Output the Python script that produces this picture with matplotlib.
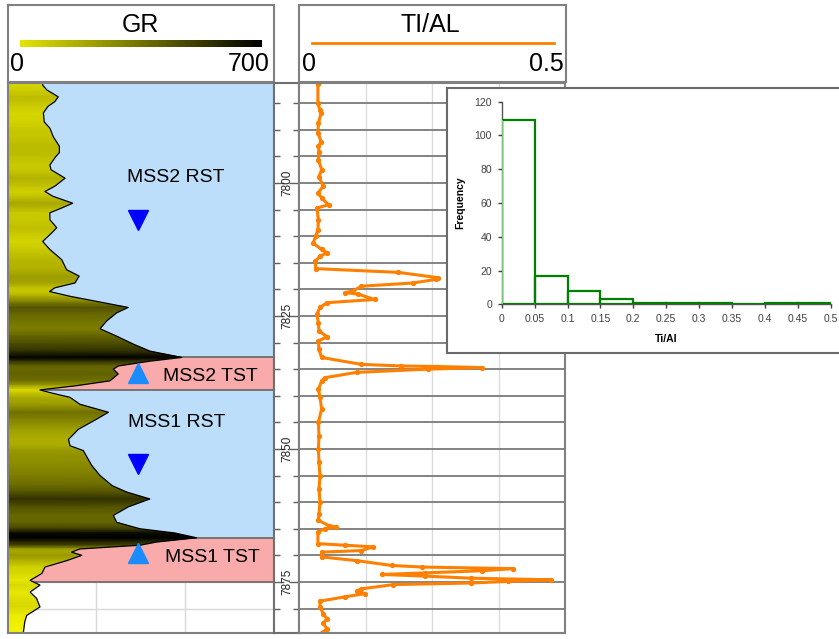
import numpy as np
import matplotlib
matplotlib.use('Agg')
import matplotlib.pyplot as plt
from matplotlib.colors import LinearSegmentedColormap, Normalize
from matplotlib.patches import PathPatch
from matplotlib.path import Path

plt.rcParams['font.family'] = ['Liberation Sans', 'DejaVu Sans']

W, H = 839, 639

# --- GR log (depth ft, API) ---
gr_depth = [7781.2, 7781.6, 7782.5, 7783.8, 7784.7, 7785.6, 7786.8, 7788.5, 7789.7, 7791.3,
            7793.1, 7794.3, 7795.0, 7796.6, 7797.5, 7799.1, 7800.6, 7801.6, 7802.5, 7803.8,
            7804.7, 7805.6, 7806.9, 7808.4, 7809.3, 7811.0, 7812.5, 7814.4, 7816.3, 7817.5,
            7818.8, 7819.7, 7820.4, 7821.3, 7822.5, 7823.4, 7824.4, 7825.9, 7827.4, 7828.8,
            7830.3, 7831.6, 7832.8, 7833.5, 7834.4, 7835.0, 7835.9, 7837.2, 7838.1, 7838.9,
            7839.4, 7840.3, 7841.6, 7843.1, 7844.4, 7846.3, 7848.2, 7849.4, 7850.3, 7853.1,
            7855.0, 7856.9, 7858.1, 7859.4, 7860.9, 7862.5, 7863.8, 7865.0, 7865.8, 7866.7,
            7867.5, 7868.1, 7868.8, 7869.4, 7870.0, 7871.0, 7872.2, 7873.4, 7874.7, 7875.6,
            7876.9, 7878.1, 7879.7, 7881.3, 7882.5, 7884.6]
gr_value = [92, 92, 103, 133, 124, 106, 94, 96, 111, 120,
            136, 136, 127, 111, 114, 151, 124, 98, 119, 171,
            142, 111, 111, 129, 117, 92, 111, 142, 155, 188,
            177, 124, 110, 164, 252, 317, 287, 261, 243, 287,
            331, 374, 458, 374, 291, 278, 291, 269, 181, 85,
            111, 164, 190, 265, 234, 186, 160, 164, 199, 221,
            243, 275, 313, 374, 317, 278, 287, 348, 440, 497,
            392, 348, 190, 168, 195, 155, 98, 90, 59, 85,
            59, 76, 85, 50, 45, 41]

# --- Ti/Al log ---
tial_depth = [7781.4, 7785.0, 7786.3, 7786.8, 7788.8, 7790.6, 7792.2, 7793.1, 7794.1, 7795.6,
              7797.5, 7798.8, 7800.6, 7801.9, 7802.8, 7804.1, 7804.7, 7806.9, 7808.8, 7810.0,
              7811.3, 7812.5, 7813.1, 7813.8, 7814.7, 7816.1, 7816.8, 7817.8, 7818.1, 7818.8,
              7819.4, 7820.3, 7820.6, 7820.9, 7821.9, 7822.5, 7823.4, 7824.7, 7826.3, 7827.8,
              7828.9, 7829.7, 7831.3, 7832.8, 7834.1, 7834.4, 7834.5, 7834.7, 7835.0, 7835.6,
              7836.6, 7837.2, 7838.8, 7840.3, 7842.5, 7845.0, 7847.5, 7850.0, 7852.5, 7855.1,
              7857.5, 7860.0, 7862.2, 7863.4, 7864.4, 7864.7, 7865.0, 7865.6, 7867.8, 7868.1,
              7868.4, 7869.1, 7869.4, 7870.3, 7871.0, 7871.9, 7872.2, 7872.5, 7872.9, 7873.3,
              7873.6, 7873.9, 7874.3, 7874.6, 7874.9, 7875.2, 7875.5, 7876.3, 7876.7, 7877.2,
              7877.8, 7878.6, 7879.7, 7881.0, 7881.9, 7882.8, 7883.8, 7884.6]
tial_value = [0.035, 0.035, 0.039, 0.041, 0.036, 0.035, 0.041, 0.036, 0.037, 0.036,
              0.042, 0.037, 0.045, 0.035, 0.042, 0.055, 0.033, 0.036, 0.035, 0.031,
              0.026, 0.042, 0.052, 0.039, 0.030, 0.031, 0.186, 0.261, 0.258, 0.214,
              0.117, 0.101, 0.086, 0.111, 0.142, 0.052, 0.039, 0.033, 0.036, 0.037,
              0.052, 0.036, 0.037, 0.042, 0.117, 0.192, 0.261, 0.343, 0.242, 0.108,
              0.048, 0.042, 0.036, 0.039, 0.042, 0.036, 0.037, 0.036, 0.037, 0.039,
              0.037, 0.039, 0.037, 0.036, 0.055, 0.070, 0.048, 0.035, 0.035, 0.086,
              0.139, 0.117, 0.042, 0.042, 0.108, 0.174, 0.230, 0.402, 0.343, 0.236,
              0.155, 0.236, 0.324, 0.474, 0.393, 0.324, 0.177, 0.117, 0.108, 0.123,
              0.086, 0.039, 0.039, 0.045, 0.052, 0.045, 0.052, 0.042]

# --- Systems tracts ---
zone_names = ['MSS2 RST', 'MSS2 TST', 'MSS1 RST', 'MSS1 TST']
zone_top = [7781.2, 7832.8, 7838.9, 7866.7]
zone_base = [7832.8, 7838.9, 7866.7, 7875.0]
zone_kind = ['RST', 'TST', 'RST', 'TST']

# --- Ti/Al histogram ---
hist_edges = [0, 0.05, 0.1, 0.15, 0.2, 0.25, 0.3, 0.35, 0.4, 0.45, 0.5]
hist_counts = [109, 17, 8, 3, 1, 1, 1, 0, 1, 1]
hist_xlabels = ['0', '0.05', '0.1', '0.15', '0.2', '0.25', '0.3', '0.35', '0.4', '0.45', '0.5']

depth_labels = [7800, 7825, 7850, 7875]

DEPTH_TOP, DEPTH_BOT = 7781.2, 7884.6
zone_colors = {'RST': '#BCDEFB', 'TST': '#F9AAAA'}
frame_col = '#808080'


def px_axes(fig, x0, y0, x1, y1, **kw):
    return fig.add_axes([x0 / W, 1 - y1 / H, (x1 - x0) / W, (y1 - y0) / H], **kw)


def style_box(ax, lw=1.5, col=frame_col):
    ax.set_xticks([])
    ax.set_yticks([])
    for s in ax.spines.values():
        s.set_color(col)
        s.set_linewidth(lw)
        s.set_zorder(10)


fig = plt.figure(figsize=(W / 100, H / 100), dpi=100)

gr_cmap = LinearSegmentedColormap.from_list('gr', ['#F2F200', '#000000'])
gr_norm = Normalize(vmin=40, vmax=460)

# --- GR header ---
axh = px_axes(fig, 7.7, 5, 273.7, 82)
axh.set_xlim(0, 1)
axh.set_ylim(0, 1)
style_box(axh)
axh.text(0.5, 0.74, 'GR', ha='center', va='center', fontsize=18)
axh.imshow(np.linspace(0, 1, 256)[None, :], cmap=LinearSegmentedColormap.from_list('h', ['#E4E400', '#000000']),
           extent=[0.046, 0.955, 0.458, 0.536], aspect='auto')
axh.text(0.008, 0.24, '0', ha='left', va='center', fontsize=18)
axh.text(0.985, 0.24, '700', ha='right', va='center', fontsize=18)

# --- GR track ---
ax_gr = px_axes(fig, 7.7, 83, 273.7, 633)
ax_gr.set_xlim(0, 700)
ax_gr.set_ylim(DEPTH_BOT, DEPTH_TOP)
style_box(ax_gr)
for d in range(7785, 7885, 5):
    ax_gr.axhline(d, color='#D8D8D8', lw=1, zorder=0.5)
for x in [700 / 3, 1400 / 3]:
    ax_gr.axvline(x, color='#D8D8D8', lw=1, zorder=0.5)
for top, base, kind in zip(zone_top, zone_base, zone_kind):
    ax_gr.axhspan(top, base, color=zone_colors[kind], lw=0, zorder=1)
for d in sorted(set(zone_top[1:] + zone_base)):
    ax_gr.axhline(d, color='#6E6E6E', lw=1.3, zorder=1.5)

d = np.array(gr_depth)
g = np.array(gr_value, dtype=float)
X = np.column_stack([np.zeros_like(g), np.full_like(g, 700)])
Y = np.column_stack([d, d])
C = np.column_stack([g, g])
mesh = ax_gr.pcolormesh(X, Y, C, cmap=gr_cmap, norm=gr_norm, shading='gouraud', zorder=2)
verts = [(0, d[0])] + list(zip(g, d)) + [(0, d[-1]), (0, d[0])]
clip = PathPatch(Path(verts), transform=ax_gr.transData, facecolor='none', edgecolor='none')
ax_gr.add_patch(clip)
mesh.set_clip_path(clip)
ax_gr.plot(g, d, color='black', lw=0.9, zorder=3)

# tract labels and trend arrows
ax_gr.text(443, 7798.9, zone_names[0], ha='center', va='center', fontsize=14, zorder=5)
ax_gr.plot(344, 7806.9, marker='v', color='#0000FF', ms=14, zorder=5)
ax_gr.text(409, 7836.4, zone_names[1], ha='left', va='center', fontsize=14, zorder=5)
ax_gr.plot(344, 7835.8, marker='^', color='#1A8CFF', ms=14, zorder=5)
ax_gr.text(445, 7845.1, zone_names[2], ha='center', va='center', fontsize=14, zorder=5)
ax_gr.plot(344, 7852.8, marker='v', color='#0000FF', ms=14, zorder=5)
ax_gr.text(414, 7870.4, zone_names[3], ha='left', va='center', fontsize=14, zorder=5)
ax_gr.plot(344, 7869.5, marker='^', color='#1A8CFF', ms=14, zorder=5)

# --- Depth track ---
ax_d = px_axes(fig, 273.7, 83, 299.3, 633)
ax_d.set_xlim(0, 1)
ax_d.set_ylim(DEPTH_BOT, DEPTH_TOP)
ax_d.set_xticks([])
ax_d.set_yticks(depth_labels)
ax_d.set_yticks(range(7785, 7885, 5), minor=True)
ax_d.tick_params(axis='y', which='both', left=True, right=True, direction='in',
                 labelleft=False, color='#606060', width=1)
ax_d.tick_params(axis='y', which='major', length=7)
ax_d.tick_params(axis='y', which='minor', length=4)
for s in ax_d.spines.values():
    s.set_color('#707070')
    s.set_linewidth(1.5)
for t in depth_labels:
    ax_d.text(0.52, t, str(t), rotation=90, ha='center', va='center', fontsize=8.5, color='#222222')

# --- Ti/Al header ---
axh2 = px_axes(fig, 299.3, 5, 566, 82)
axh2.set_xlim(0, 1)
axh2.set_ylim(0, 1)
style_box(axh2)
axh2.text(0.49, 0.74, 'TI/AL', ha='center', va='center', fontsize=18)
axh2.plot([0.0465, 0.955], [0.503, 0.503], color='#FF8000', lw=2)
axh2.text(0.01, 0.24, '0', ha='left', va='center', fontsize=18)
axh2.text(0.99, 0.24, '0.5', ha='right', va='center', fontsize=18)

# --- Ti/Al track ---
ax_ti = px_axes(fig, 299.3, 83, 565, 633)
ax_ti.set_xlim(0, 0.5)
ax_ti.set_ylim(DEPTH_BOT, DEPTH_TOP)
style_box(ax_ti)
for x in [0.125, 0.25, 0.375]:
    ax_ti.axvline(x, color='#DCDCDC', lw=1, zorder=0.5)
for dd in range(7785, 7885, 5):
    ax_ti.axhline(dd, color='#7A7A7A', lw=1.3, zorder=0.6)
ax_ti.plot(tial_value, tial_depth, color='#FF8000', lw=2.2, marker='o', ms=2.8, zorder=3)

# --- Histogram inset ---
axf = px_axes(fig, 447, 88, 845, 353)
axf.set_facecolor('white')
style_box(axf, lw=1.5, col='#6A6A6A')

axi = px_axes(fig, 501.7, 101.7, 830.7, 304.3)
axi.bar(hist_edges[:-1], hist_counts, width=0.05, align='edge', fill=False,
        edgecolor='#008000', lw=1.6, zorder=3)
axi.vlines(hist_edges[0], 0, hist_counts[0], color='#7CC47C', lw=1.6, zorder=4)
axi.set_xlim(0, 0.5)
axi.set_ylim(0, 120)
axi.set_xticks(hist_edges)
axi.set_xticklabels(hist_xlabels)
axi.set_yticks(range(0, 121, 20))
axi.tick_params(labelsize=7.5, colors='#404040', length=3, width=1, pad=4)
for s in ['top', 'right']:
    axi.spines[s].set_visible(False)
for s in ['left', 'bottom']:
    axi.spines[s].set_color('#555555')
    axi.spines[s].set_linewidth(1)
axi.set_ylabel('Frequency', fontsize=7.5, fontweight='bold', labelpad=7)
axi.set_xlabel('Ti/Al', fontsize=7.5, fontweight='bold', labelpad=7)

fig.savefig('out.png', dpi=100)
